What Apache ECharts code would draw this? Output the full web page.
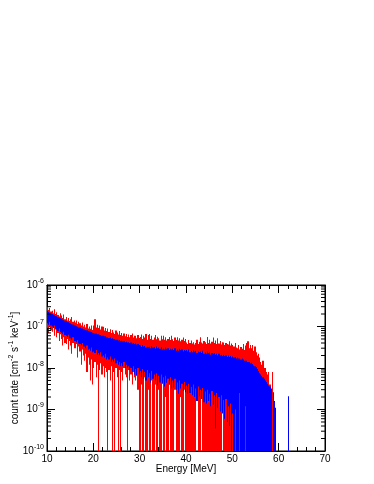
<!DOCTYPE html>
<html>
<head>
<meta charset="utf-8">
<script src="https://cdn.jsdelivr.net/npm/echarts@6/dist/echarts.min.js"></script>
<style>
  html, body { margin: 0; padding: 0; background: #fff; }
  #chart { width: 374px; height: 484px; }
</style>
</head>
<body>
<div id="chart"></div>
<script>
// histogram bins: 0.25 MeV wide, first bin starts at 10 MeV
// values are in units of 1e-9 cm^-2 s^-1 keV^-1, 0 = error bar reaches the bottom
const BIN_START = 10
const BIN_WIDTH = 0.25
const UNIT = 1e-9
const Y_MIN = 1e-10
const Y_MAX = 1e-6

const redHigh = [
  300, 250, 280, 230,  240, 210, 260, 200,  220, 190, 175, 210,  185, 160, 195, 150,
  170, 140, 160, 135,  150, 170, 130, 140,  125, 140, 115, 130,  120, 105, 125, 100,
  110, 95, 115, 90,    100, 88, 105, 82,    105, 150, 95, 110,   92, 105, 85, 100,
  98, 80, 92, 78,      90, 74, 86, 70,      82, 72, 66, 80,      72, 64, 78, 62,
  70, 60, 68, 58,      66, 56, 64, 55,      62, 68, 54, 60,      60, 52, 62, 53,
  56, 64, 50, 60,      54, 66, 48, 62,      66, 50, 60, 48,      54, 62, 49, 57,
  52, 46, 60, 49,      60, 48, 55, 46,      50, 56, 47, 60,      49, 45, 54, 47,
  55, 46, 52, 44,      48, 54, 45, 50,      41, 38, 47, 40,      46, 39, 42, 37,
  40, 48, 38, 43,      55, 41, 39, 45,      42, 38, 56, 40,      48, 39, 43, 54,
  40, 46, 38, 52,      39, 45, 37, 42,      41, 36, 40, 38,      37, 44, 35, 39,
  36, 33, 40, 31,      30, 36, 28, 32,      29, 38, 27, 35,      40, 44, 30, 36,
  30, 36, 26, 33,      24, 20, 22, 18,      14, 12, 15, 10,      10, 8, 7, 8,
  4, 3, 8, null,
]

const redLow = [
  90, 70, 100, 80,     75, 95, 60, 85,      55, 70, 45, 65,      50, 35, 55, 40,
  38, 50, 28, 45,      35, 22, 40, 30,      30, 38, 18, 33,      25, 12, 28, 20,
  15, 22, 8, 18,       12, 5, 16, 4,        10, 14, 6, 12,       0, 9, 13, 7,
  11, 6, 10, 8,        0, 9, 5, 11,         0, 8, 0, 10,         6, 0, 9, 0,
  8, 5, 10, 7,         6, 0, 9, 5,          7, 4, 8, 6,          5, 7, 3, 0,
  0, 4, 0, 0,          6, 0, 0, 3,          0, 0, 5, 0,          0, 4, 0, 0,
  3, 0, 0, 5,          0, 0, 2, 0,          0, 4, 0, 0,          0, 0, 3, 0,
  0, 0, 0, 2,          0, 0, 3, 0,          0, 0, 0, 0,          0, 0, 0, 0,
  0, 3, 0, 0,          0, 2.5, 0, 0,        0, 0, 0, 0,          0, 0, 0, 0,
  0, 0, 0, 0,          0, 0, 0, 2,          0, 0, 0, 0,          0, 0, 0, 0,
  0, 0, 0, 0,          0, 0, 0, 0,          0, 0, 0, 0,          0, 0, 0, 0,
  0, 0, 0, 0,          0, 0, 0, 0,          0, 0, 0, 0,          0, 0, 0, 0,
  0, 0, 0, null,
]

const blueHigh = [
  240, 225, 215, 205,  200, 192, 186, 178,  176, 168, 163, 158,  153, 147, 143, 137,
  135, 129, 126, 121,  120, 114, 112, 107,  106, 101, 99, 95,    94, 90, 89, 86,
  85, 82, 81, 78,      77, 75, 74, 71,      70, 68, 68, 65,      65, 63, 62, 60,
  60, 58, 58, 55,      55, 53, 54, 51,      52, 50, 50, 48,      48, 46, 47, 45,
  46, 44, 44, 42,      43, 41, 42, 40,      41, 39, 40, 38,      39, 37, 38, 36,
  35, 32, 36, 33,      34, 31, 33, 32,      33, 30, 34, 31,      32, 29, 33, 30,
  31, 29, 32, 28,      30, 28, 31, 29,      30, 27, 29, 28,      29, 27, 30, 26,
  28, 26, 29, 27,      28, 25, 27, 26,      27, 25, 28, 24,      26, 24, 27, 25,
  26, 23, 25, 24,      25, 23, 26, 22,      24, 22, 25, 23,      24, 21, 23, 22,
  23, 21, 22, 20,      22, 20, 21, 19.5,    21, 19.5, 20, 18.5,  20, 18.5, 19.5, 18,
  19, 18, 18.5, 17,    18, 17, 17, 16,      17, 16, 15, 15,      15, 14, 14, 13,
  13.5, 12.5, 11.5, 11, 10.5, 9.5, 8.5, 7.5, 7, 6.5, 6, 5.5,     5, 4.6, 4.2, 3.8,
  3.6, 3.2, null, 2.6, 1.6, 1.1,
  null, null, null, null, null, null, null, null, null, null,
  2.1,
]

const blueLow = [
  120, 110, 130, 105,  100, 92, 105, 88,    85, 78, 90, 74,      70, 66, 75, 62,
  60, 56, 63, 52,      52, 48, 55, 45,      45, 42, 47, 39,      38, 35, 40, 33,
  33, 30, 35, 28,      29, 26, 31, 24,      25, 23, 27, 21,      23, 20, 24, 19,
  20, 18, 22, 16,      18, 16, 19, 14,      16, 14, 17, 13,      15, 12, 14, 11,
  13, 11, 14, 10,      12, 10, 11, 9,       10, 8, 11, 7,        9.5, 6.5, 10, 7,
  8.5, 6, 9.5, 5.5,    8, 5, 9, 6,          7.5, 4.5, 8.5, 5.5,  7, 5, 7.5, 3.8,
  6.5, 4.5, 7, 4.2,    6, 3.6, 6.5, 4.4,    5.5, 4, 6, 3.2,      5, 3.4, 5.5, 3,
  4.5, 2.4, 5, 3.2,    4.2, 2.8, 4.6, 2.6,  3.8, 2.4, 4.2, 2.5,  3.5, 2.2, 4, 2,
  3.2, 1.6, 3.6, 2.1,  3, 1.8, 3.3, 1.5,    2.7, 1.4, 3, 1.6,    2.4, 1.2, 2.8, 1.3,
  2.2, 0.35, 2.5, 1.1, 2, 0.9, 2.2, 0.8,    1.7, 0.6, 1.8, 0.5,  1.2, 0.4, 1.4, 0,
  0.8, 0, 1, 0,        0, 0, 2.5, 0,        0, 0, 0, 1.2,        0, 0, 0, 0,
  0, 0, 0, 0,          0, 0, 0, 0,          0, 0, 0, 0,          0, 0, 0, 0,
  0, 0, null, 0,       0, 0,
  null, null, null, null, null, null, null, null, null, null,
  0,
]

const xTicks = { min: 10, max: 70, interval: 10 }

function toBins(low, high) {
  const out = []
  for (let i = 0; i < high.length; i++) {
    if (high[i] == null) continue
    const lo = low[i] > 0 ? low[i] * UNIT : Y_MIN
    out.push([BIN_START + i * BIN_WIDTH, lo, high[i] * UNIT])
  }
  return out
}

// log minor ticks 2..9 per decade, drawn on the left and right frame edges
const minorY = []
for (let e = -10; e < -6; e++) {
  for (let k = 2; k <= 9; k++) minorY.push([xTicks.min, k * Math.pow(10, e)])
}

function renderBin(params, api) {
  const x0 = api.value(0)
  const top = api.coord([x0, api.value(2)])
  const bot = api.coord([x0 + BIN_WIDTH, api.value(1)])
  const left = Math.round(top[0])
  const right = Math.max(Math.round(bot[0]), left + 1)
  return {
    type: 'rect',
    shape: { x: left, y: top[1], width: right - left, height: bot[1] - top[1] },
    style: { fill: api.visual('color') },
  }
}

function renderMinorTick(params, api) {
  const cs = params.coordSys
  const y = api.coord([xTicks.min, api.value(1)])[1]
  const style = { stroke: '#000', lineWidth: 1 }
  return {
    type: 'group',
    children: [
      { type: 'line', shape: { x1: cs.x, y1: y, x2: cs.x + 4, y2: y }, style },
      { type: 'line', shape: { x1: cs.x + cs.width - 4, y1: y, x2: cs.x + cs.width, y2: y }, style },
    ],
  }
}

const font = 'Liberation Sans'
const supStyle = { fontFamily: font, fontSize: 7, lineHeight: 7, verticalAlign: 'top', color: '#000' }

const xAxisBase = {
  type: 'value',
  min: xTicks.min,
  max: xTicks.max,
  interval: xTicks.interval,
  axisLine: { show: true, lineStyle: { color: '#000', width: 1 } },
  axisTick: { show: true, inside: true, length: 8, lineStyle: { color: '#000' } },
  minorTick: { show: true, splitNumber: 5, length: 4, lineStyle: { color: '#000' } },
  splitLine: { show: false },
  minorSplitLine: { show: false },
}

const yAxisBase = {
  type: 'log',
  logBase: 10,
  min: Y_MIN,
  max: Y_MAX,
  axisLine: { show: true, lineStyle: { color: '#000', width: 1 } },
  axisTick: { show: true, inside: true, length: 8, lineStyle: { color: '#000' } },
  splitLine: { show: false },
}

const chart = echarts.init(document.getElementById('chart'), null, { renderer: 'canvas' })

chart.setOption({
  animation: false,
  backgroundColor: '#fff',
  grid: {
    left: 47, top: 285, width: 278, height: 166,
    show: true, borderColor: '#000', borderWidth: 1,
    outerBoundsMode: 'none',
  },
  xAxis: [
    {
      ...xAxisBase,
      position: 'bottom',
      axisLabel: { fontFamily: font, fontSize: 10, color: '#000', margin: 3 },
      name: 'Energy [MeV]',
      nameLocation: 'middle',
      nameGap: 13,
      nameMoveOverlap: false,
      nameTextStyle: { fontFamily: font, fontSize: 10, color: '#000' },
    },
    { ...xAxisBase, position: 'top', axisLabel: { show: false } },
  ],
  yAxis: [
    {
      ...yAxisBase,
      position: 'left',
      axisLabel: {
        margin: 3,
        showMinLabel: true,
        showMaxLabel: true,
        formatter: v => '{a|10}{b|' + Math.round(Math.log10(v)) + '}',
        rich: {
          a: { fontFamily: font, fontSize: 10, lineHeight: 15, color: '#000' },
          b: supStyle,
        },
      },
      name: 'count rate [cm{s|-2} s{s|-1} keV{s|-1}]',
      nameLocation: 'middle',
      nameGap: 24,
      nameMoveOverlap: false,
      nameTextStyle: {
        fontFamily: font, fontSize: 10, lineHeight: 15, color: '#000',
        rich: { s: supStyle },
      },
    },
    { ...yAxisBase, position: 'right', axisLabel: { show: false } },
  ],
  series: [
    {
      name: 'red',
      type: 'custom',
      renderItem: renderBin,
      clip: true,
      silent: true,
      itemStyle: { color: '#ff0000' },
      encode: { x: 0, y: [1, 2] },
      data: toBins(redLow, redHigh),
    },
    {
      name: 'blue',
      type: 'custom',
      renderItem: renderBin,
      clip: true,
      silent: true,
      itemStyle: { color: '#0000ff' },
      encode: { x: 0, y: [1, 2] },
      data: toBins(blueLow, blueHigh),
    },
    {
      name: 'minor ticks',
      type: 'custom',
      renderItem: renderMinorTick,
      silent: true,
      encode: { x: 0, y: 1 },
      data: minorY,
    },
  ],
})
</script>
</body>
</html>
